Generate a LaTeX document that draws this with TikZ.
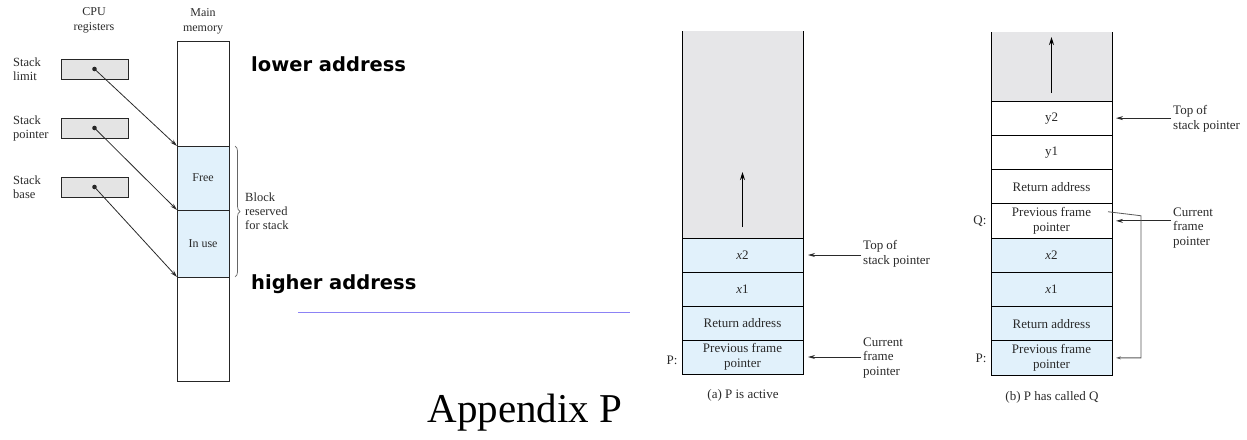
\documentclass[tikz,border=0pt]{standalone}
\usepackage{fontspec}
\setmainfont{Liberation Serif}
\newfontfamily\addrfont{DejaVu Sans}
\usetikzlibrary{positioning,arrows.meta,decorations.pathreplacing}

\definecolor{stackblue}{HTML}{E1F1FB}
\definecolor{stackgray}{HTML}{E6E6E8}
\definecolor{reggray}{HTML}{E4E4E4}
\definecolor{rulecolor}{HTML}{8C82F5}
\definecolor{inkgray}{HTML}{2A2A2A}

\begin{document}
\begin{tikzpicture}[x=1pt, y=-1pt,
    cell/.style={draw=black, line width=0.8pt, outer sep=0pt, inner sep=0pt,
      minimum width=121pt, minimum height=34pt, align=center, text=inkgray,
      font=\fontsize{13}{15}\selectfont},
    bcell/.style={cell, minimum height=34.25pt},
    topfill/.style={fill=stackgray, outer sep=0pt, inner sep=0pt, minimum width=121pt},
    memcell/.style={draw=black!85, line width=0.8pt, outer sep=0pt, inner sep=0pt,
      minimum width=52pt, fill=stackblue, text=inkgray, font=\fontsize{12}{14}\selectfont},
    reg/.style={draw=black!85, line width=0.8pt, fill=reggray, minimum width=67pt,
      minimum height=20pt, inner sep=0pt},
    side/.style={align=left, text=inkgray, inner sep=2pt, font=\fontsize{12.5}{14}\selectfont},
    head/.style={align=center, text=inkgray, font=\fontsize{12}{15}\selectfont},
    plabel/.style={align=left, anchor=west, text=inkgray, inner sep=2pt,
      font=\fontsize{13}{14.5}\selectfont},
    caption/.style={text=inkgray, font=\fontsize{13}{15}\selectfont},
    addr/.style={anchor=west, inner sep=0pt, font=\addrfont\bfseries\fontsize{19.5}{22}\selectfont},
    ptr/.style={draw=inkgray, line width=0.8pt, -{Stealth[length=7pt, width=4pt]}},
    link/.style={draw=black!65, line width=0.8pt, -{Stealth[length=5pt, width=3pt]}},
    growarrow/.style={line width=1.6pt, -{Stealth[length=8pt, width=5pt]}}]
  \useasboundingbox (0,0) rectangle (1247,439);

  % stack in main memory
  \node [head] (cpu) at (94,20) {CPU\\registers};
  \node [head] (mainmem) at (203,21) {Main\\memory};
  \node [draw=black!85, line width=0.8pt, minimum width=52pt, minimum height=340pt] (mem) at (203,211) {};
  \node [memcell, minimum height=64pt] (free) at (203,178) {Free};
  \node [memcell, minimum height=67pt, below=0pt of free] (inuse) {In use};

  \node [reg] (limit) at (94.5,69) {};
  \node [reg] (sptr) at (94.5,128) {};
  \node [reg] (base) at (94.5,187) {};
  \node [side, anchor=west] (limitlbl) at (11,69) {Stack\\limit};
  \node [side, anchor=west] (sptrlbl) at (11,128) {Stack\\pointer};
  \node [side, anchor=west] (baselbl) at (11,187) {Stack\\base};
  \foreach \r in {limit, sptr, base}
    \fill [black!85] (\r.center) circle (2.3);
  \draw [ptr] (limit.center) -- (free.north west);
  \draw [ptr] (sptr.center) -- (free.south west);
  \draw [ptr] (base.center) -- (inuse.south west);

  \draw [black!60, line width=0.7pt, decorate, decoration={brace, amplitude=5pt}]
    ([xshift=6pt]free.north east) -- ([xshift=6pt]inuse.south east);
  \node [side, anchor=west] (blocklbl) at (243,211) {Block\\reserved\\for stack};

  \node [addr] (lowaddr) at (251,64) {lower address};
  \node [addr] (highaddr) at (251,284) {higher address};
  \draw [rulecolor, line width=1pt] (298,312) -- (630,312);
  \node [anchor=base, inner sep=0pt, font=\fontsize{41}{48}\selectfont] (appx) at (525,422) {Appendix P};

  % (a) P is active
  \node [topfill, minimum height=207pt] (agray) at (742.5,134.5) {};
  \node [cell, fill=stackblue, below=0pt of agray] (ax2) {\textit{x}2};
  \node [cell, fill=stackblue, below=0pt of ax2] (ax1) {\textit{x}1};
  \node [cell, fill=stackblue, below=0pt of ax1] (aret) {Return address};
  \node [cell, fill=stackblue, below=0pt of aret] (aprev) {Previous frame\\pointer};
  \draw [line width=0.8pt] (agray.north west) -- (agray.south west);
  \draw [line width=0.8pt] (agray.north east) -- (agray.south east);
  \draw [growarrow] ([yshift=11pt]agray.south) -- ([yshift=66pt]agray.south);
  \node [caption, anchor=east] (apl) at ([xshift=-1pt, yshift=-3pt]aprev.west) {P:};
  \node [plabel] (atop) at (861,254) {Top of\\stack pointer};
  \node [plabel] (acur) at (861,358) {Current\\frame\\pointer};
  \draw [ptr, shorten >=5pt] (atop.west |- ax2.east) -- (ax2.east);
  \draw [ptr, shorten >=5pt] (acur.west |- aprev.east) -- (aprev.east);
  \node [caption] (acap) at (743,395) {(a) P is active};

  % (b) P has called Q
  \node [topfill, minimum height=69pt] (bgray) at (1051.5,66.5) {};
  \node [bcell, below=0pt of bgray] (by2) {y2};
  \node [bcell, below=0pt of by2] (by1) {y1};
  \node [bcell, below=0pt of by1] (bqret) {Return address};
  \node [bcell, below=0pt of bqret] (bq) {Previous frame\\pointer};
  \node [bcell, fill=stackblue, below=0pt of bq] (bx2) {\textit{x}2};
  \node [bcell, fill=stackblue, below=0pt of bx2] (bx1) {\textit{x}1};
  \node [bcell, fill=stackblue, below=0pt of bx1] (bret) {Return address};
  \node [bcell, fill=stackblue, below=0pt of bret] (bp) {Previous frame\\pointer};
  \draw [line width=0.8pt] (bgray.north west) -- (bgray.south west);
  \draw [line width=0.8pt] (bgray.north east) -- (bgray.south east);
  \draw [growarrow] ([yshift=8pt]bgray.south) -- ([yshift=64pt]bgray.south);
  \node [caption, anchor=east] (bql) at ([xshift=-1pt]bq.west) {Q:};
  \node [caption, anchor=east] (bpl) at ([xshift=-1pt]bp.west) {P:};
  \node [plabel] (btop) at (1171,119) {Top of\\stack pointer};
  \node [plabel] (bcur) at (1171,228) {Current\\frame\\pointer};
  \draw [ptr, shorten >=4pt] (btop.west |- by2.east) -- (by2.east);
  \draw [ptr, shorten >=4pt] (bcur.west |- bq.east) -- (bq.east);
  \coordinate (qback) at ([xshift=-4pt, yshift=-8pt]bq.north east);
  \draw [link, shorten >=4pt] (qback) -- ++(33,4) |- (bp.east);
  \node [caption] (bcap) at (1052,397) {(b) P has called Q};
\end{tikzpicture}
\end{document}
